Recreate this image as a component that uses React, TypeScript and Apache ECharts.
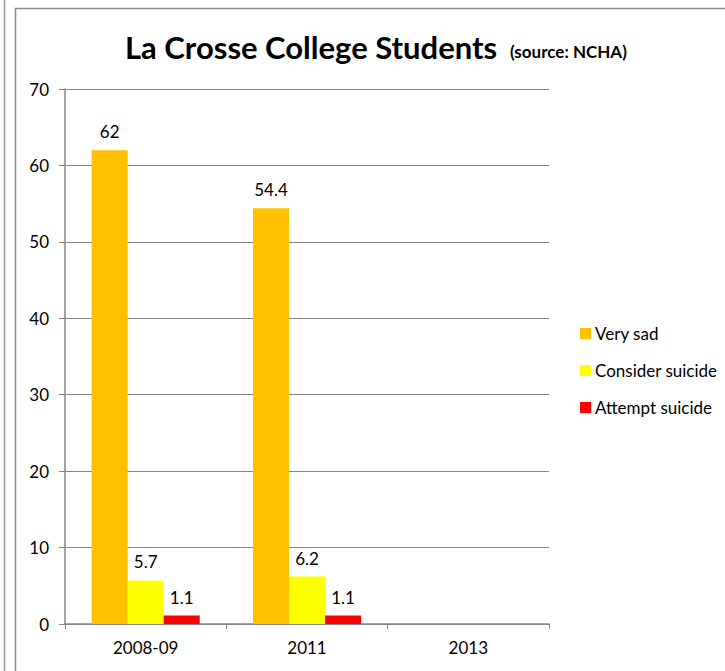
import React, { useEffect, useRef } from "react";
import * as echarts from "echarts";

const categories = ["2008-09", "2011", "2013"];
const verySad: (number | null)[] = [62, 54.4, null];
const considerSuicide: (number | null)[] = [5.7, 6.2, null];
const attemptSuicide: (number | null)[] = [1.1, 1.1, null];
const yTicks = [0, 10, 20, 30, 40, 50, 60, 70];

const FONT = "Lato, 'Open Sans', sans-serif";

export default function App() {
  const ref = useRef<HTMLDivElement>(null);
  useEffect(() => {
    if (!ref.current) return;
    const chart = echarts.init(ref.current, undefined, { renderer: "svg" });
    const label = {
      show: true,
      position: "top" as const,
      distance: 10,
      color: "#000",
      fontSize: 17,
      fontFamily: FONT,
    };
    chart.setOption({
      animation: false,
      backgroundColor: "#fff",
      textStyle: { fontFamily: FONT },
      graphic: [
        { type: "line", shape: { x1: 4.5, y1: 0, x2: 4.5, y2: 671 }, style: { stroke: "#9a9a9a", lineWidth: 1.5 } },
        { type: "rect", shape: { x: 15.5, y: 8.5, width: 760, height: 700 }, style: { fill: "none", stroke: "#8c8c8c", lineWidth: 1.5 } },
        {
          type: "text",
          x: 125,
          y: 62,
          style: {
            text: "La Crosse College Students",
            font: "bold 31px " + FONT,
            fill: "#000",
            textVerticalAlign: "bottom",
          },
        },
        {
          type: "text",
          x: 510,
          y: 60,
          style: {
            text: "(source: NCHA)",
            font: "bold 17px " + FONT,
            fill: "#000",
            textVerticalAlign: "bottom",
          },
        },
      ],
      legend: {
        orient: "vertical",
        left: 575,
        top: 320,
        itemWidth: 11,
        itemHeight: 11,
        itemGap: 20,
        icon: "rect",
        textStyle: { fontSize: 17, color: "#000", fontFamily: FONT, padding: [0, 0, 0, -1] },
        data: ["Very sad", "Consider suicide", "Attempt suicide"],
      },
      grid: { left: 65, top: 89, right: 176, bottom: 47, containLabel: false },
      xAxis: {
        type: "category",
        data: categories,
        axisLine: { lineStyle: { color: "#868686", width: 1.5 } },
        axisTick: { show: true, length: 5, lineStyle: { color: "#868686" } },
        axisLabel: { color: "#000", fontSize: 17, fontFamily: FONT, margin: 15 },
      },
      yAxis: {
        type: "value",
        min: yTicks[0],
        max: yTicks[yTicks.length - 1],
        interval: 10,
        axisLine: { show: true, lineStyle: { color: "#868686", width: 1.5 } },
        axisTick: { show: true, length: 6, lineStyle: { color: "#868686" } },
        splitLine: { lineStyle: { color: "#868686", width: 1 } },
        axisLabel: { color: "#000", fontSize: 17, fontFamily: FONT, margin: 16 },
      },
      series: [
        { name: "Very sad", type: "bar", data: verySad, itemStyle: { color: "#FFC000" }, barGap: "0%", barCategoryGap: "33%", label },
        { name: "Consider suicide", type: "bar", data: considerSuicide, itemStyle: { color: "#FFFF00" }, label },
        { name: "Attempt suicide", type: "bar", data: attemptSuicide, itemStyle: { color: "#FF0000" }, label },
      ],
    });
    return () => chart.dispose();
  }, []);
  return <div ref={ref} style={{ position: "absolute", left: 0, top: 0, width: 725, height: 671 }} />;
}
